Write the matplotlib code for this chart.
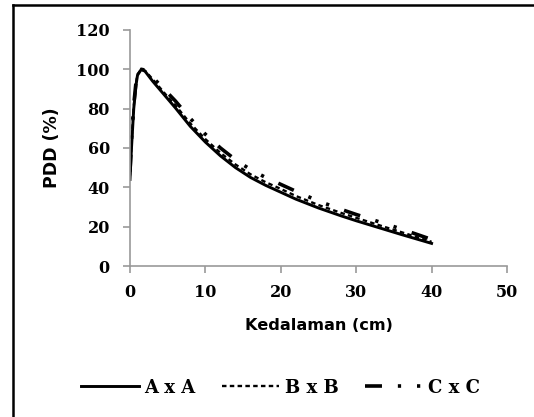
import matplotlib
matplotlib.use("Agg")
import matplotlib.pyplot as plt
from matplotlib.lines import Line2D

depth = [0, 0.2, 0.5, 0.8, 1.0, 1.5, 2, 3, 4, 5, 6, 8, 10, 12, 14, 16, 18, 20, 22, 25, 28, 30, 33, 36, 40]
pdd_a = [44, 60, 80, 92, 97, 100, 99, 94, 89.5, 85, 80.5, 71, 63, 56, 50, 45, 41, 37.5, 34, 29.5, 25.5, 23, 19.5, 16, 11.5]
pdd_b = [46, 62, 81, 93, 97.5, 100, 99.3, 95, 90.5, 86, 81.8, 72.5, 64.5, 57.5, 51.6, 46.6, 42.6, 39.2, 35.6, 31, 27, 24.5, 20.8, 17.2, 12.3]
pdd_c = [48, 64, 82, 93.5, 98, 100, 99.6, 96, 92, 88, 84, 75, 67, 60, 54, 49, 45, 41.5, 38, 33, 28.8, 26.2, 22.5, 18.8, 13.5]
labels = ["A x A", "B x B", "C x C"]
xticks = [0, 10, 20, 30, 40, 50]
yticks = [0, 20, 40, 60, 80, 100, 120]

fig = plt.figure(figsize=(5.34, 4.17), dpi=100)
ax = fig.add_axes([0.2434, 0.3621, 0.706, 0.566])

ax.plot(depth, pdd_a, color="black", lw=2.1, ls="-", label=labels[0])
ax.plot(depth, pdd_b, color="black", lw=1.7, ls=(0, (1.9, 1.4)), label=labels[1])
ax.plot(depth, pdd_c, color="black", lw=2.6, ls=(0, (4.7, 4.4, 0.9, 4.4, 0.9, 4.4)), label=labels[2])

ax.set_xlim(0, 50)
ax.set_ylim(0, 120)
ax.set_xticks(xticks)
ax.set_yticks(yticks)
for s in ["top", "right"]:
    ax.spines[s].set_visible(False)
for s in ["left", "bottom"]:
    ax.spines[s].set_color("#999999")
    ax.spines[s].set_linewidth(1.2)
ax.tick_params(direction="out", length=5, width=1.2, color="#999999")
ax.tick_params(axis="x", pad=8)
ax.tick_params(axis="y", pad=9.5)
for t in ax.get_xticklabels() + ax.get_yticklabels():
    t.set_fontfamily("DejaVu Serif")
    t.set_fontweight("bold")
    t.set_fontsize(11.5)

ax.set_xlabel("Kedalaman (cm)", fontfamily="DejaVu Sans", fontweight="bold", fontsize=11.6, labelpad=12)
ax.set_ylabel("PDD (%)", fontfamily="DejaVu Sans", fontweight="bold", fontsize=12.5, labelpad=11)

leg = fig.legend(loc="center", bbox_to_anchor=(0.525, 0.07), ncol=3, frameon=False,
                 prop={"family": "DejaVu Serif", "weight": "bold", "size": 13},
                 handlelength=3.2, handletextpad=0.3, columnspacing=1.45)

fig.add_artist(Line2D([13/534, 533/534], [1-5/417, 1-5/417], color="black", lw=1.8, transform=fig.transFigure))
fig.add_artist(Line2D([13/534, 13/534], [1-5/417, 0], color="black", lw=1.8, transform=fig.transFigure))

fig.savefig("out.png", dpi=100)
